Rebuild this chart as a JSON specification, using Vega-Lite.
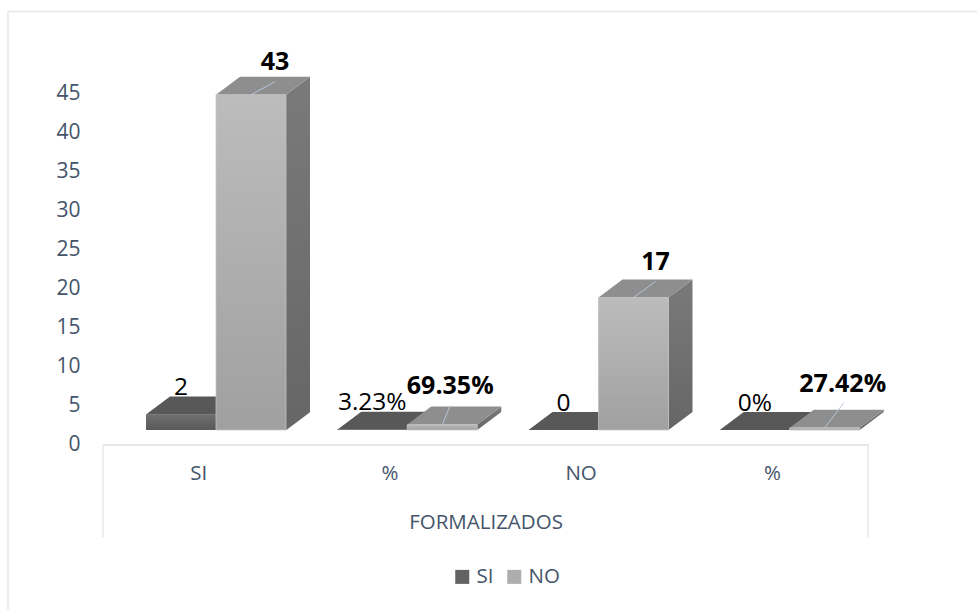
{
"$schema":"https://vega.github.io/schema/vega-lite/v6.json",
"autosize":{"type":"none"},
"padding":{"left":8,"top":11.5,"right":0,"bottom":0},
"width":975,"height":610,
"background":"white",
"config":{"view":{"stroke":"#e3e8ed","strokeWidth":1.5},"font":"Open Sans"},
"resolve":{"scale":{"shape":"independent"}},
"data":{"values":[
{"cat":"SI","series":"SI","value":2,"label":"2"},
{"cat":"SI","series":"NO","value":43,"label":"43"},
{"cat":"%","series":"SI","value":0.0323,"label":"3.23%"},
{"cat":"%","series":"NO","value":0.6935,"label":"69.35%"},
{"cat":"NO","series":"SI","value":0,"label":"0"},
{"cat":"NO","series":"NO","value":17,"label":"17"},
{"cat":"% ","series":"SI","value":0,"label":"0%"},
{"cat":"% ","series":"NO","value":0.2742,"label":"27.42%"}
]},
"encoding":{
"x":{"field":"cat","type":"nominal","sort":null,"scale":{"domain":["SI","%","NO","% "],"range":[95,860],"paddingInner":0,"paddingOuter":0},
 "axis":{"labelExpr":"trim(datum.label)","labelAngle":0,"ticks":false,"domainColor":"#e3e8ed","domainWidth":2,"offset":-177,"labelPadding":19,"labelFontSize":20.5,"labelColor":"#44546a","titleFontSize":20.5,"titleFontWeight":"normal","titleColor":"#44546a","titlePadding":28,"title":"FORMALIZADOS","grid":false}},
"xOffset":{"field":"series","type":"nominal","sort":null,"scale":{"domain":["SI","NO"],"range":[43,183],"paddingInner":0,"paddingOuter":0}},
"y":{"field":"value","type":"quantitative","scale":{"domain":[0,45],"range":[433,82.2],"nice":false},
 "axis":{"values":[0,5,10,15,20,25,30,35,40,45],"domain":false,"ticks":false,"grid":false,"offset":-72,"labelPadding":0,"labelFontSize":21,"labelColor":"#44546a","title":null}}
},
"layer":[
{"mark":{"type":"bar","yOffset":-14.5,"y2Offset":-14.5},
 "encoding":{"color":{"field":"series","type":"nominal","sort":null,"scale":{"domain":["SI","NO"],"range":["#636363","#aeaeae"]},"legend":{"orient":"none","legendX":444,"legendY":555,"direction":"horizontal","title":null,"symbolType":"square","symbolSize":196,"labelFontSize":20.5,"labelColor":"#44546a","columnPadding":10,"labelOffset":4}}}},
{"transform":[{"filter":"datum.series=='SI'"}],"mark":{"type":"point","filled":true,"size":4,"opacity":1,"color":"#585858","shape":"M-35,0 L35,0 L59,-18 L-11,-18 Z","yOffset":-14.5}},
{"transform":[{"filter":"datum.series=='SI'"}],"mark":{"type":"bar","yOffset":-14.5,"y2Offset":-14.5,"color":{"gradient":"linear","x1":0,"y1":0,"x2":0,"y2":1,"stops":[{"offset":0,"color":"#707070"},{"offset":1,"color":"#585858"}]}}},
{"transform":[{"filter":"datum.series=='NO'"}],"mark":{"type":"point","filled":true,"size":4,"opacity":1,"yOffset":-14.5,"color":{"gradient":"linear","x1":0,"y1":0,"x2":0,"y2":1,"stops":[{"offset":0,"color":"#7a7a7a"},{"offset":1,"color":"#666666"}]}},
 "encoding":{"shape":{"field":"cat","type":"nominal","legend":null,"scale":{"domain":["SI","%","NO","% "],"range":["M35,0 L59,-18 L59,317.4 L35,335.4 Z","M35,0 L59,-18 L59,-12.6 L35,5.4 Z","M35,0 L59,-18 L59,114.6 L35,132.6 Z","M35,0 L59,-18 L59,-15.9 L35,2.1 Z"]}}}},
{"transform":[{"filter":"datum.series=='NO'"}],"mark":{"type":"point","filled":true,"size":4,"opacity":1,"color":"#8e8e8e","shape":"M-35,0 L35,0 L59,-18 L-11,-18 Z","yOffset":-14.5}},
{"transform":[{"filter":"datum.series=='NO'"}],"mark":{"type":"bar","yOffset":-14.5,"y2Offset":-14.5,"stroke":"#c4c4c4","strokeWidth":0.75,"color":{"gradient":"linear","x1":0,"y1":0,"x2":0,"y2":1,"stops":[{"offset":0,"color":"#bcbcbc"},{"offset":1,"color":"#a0a0a0"}]}}},
{"transform":[{"filter":"datum.series=='NO'"}],"mark":{"type":"point","filled":false,"size":4,"opacity":1,"color":"#b6c6d8","strokeWidth":1,"yOffset":-14.5},
 "encoding":{"shape":{"field":"label","type":"nominal","legend":null,"scale":{"domain":["43","69.35%","17","27.42%"],"range":["M0,0 L24,-13","M0,0 L8,-19","M0,0 L22,-16","M0,0 L19,-25"]}}}},
{"transform":[{"filter":"datum.series=='SI'"}],"mark":{"type":"text","font":"Open Sans","fontSize":24.5,"color":"#000000","baseline":"alphabetic","dy":-34},"encoding":{"text":{"field":"label"}}},
{"transform":[{"filter":"datum.label=='43'"}],"mark":{"type":"text","font":"Open Sans","fontSize":25,"fontWeight":"bold","color":"#000000","baseline":"alphabetic","dx":24,"dy":-39},"encoding":{"text":{"field":"label"}}},
{"transform":[{"filter":"datum.label=='17'"}],"mark":{"type":"text","font":"Open Sans","fontSize":25,"fontWeight":"bold","color":"#000000","baseline":"alphabetic","dx":22,"dy":-42},"encoding":{"text":{"field":"label"}}},
{"transform":[{"filter":"datum.label=='69.35%'"}],"mark":{"type":"text","font":"Open Sans","fontSize":25,"fontWeight":"bold","color":"#000000","baseline":"alphabetic","dx":8,"dy":-45},"encoding":{"text":{"field":"label"}}},
{"transform":[{"filter":"datum.label=='27.42%'"}],"mark":{"type":"text","font":"Open Sans","fontSize":25,"fontWeight":"bold","color":"#000000","baseline":"alphabetic","dx":18,"dy":-50},"encoding":{"text":{"field":"label"}}},
{"transform":[{"filter":"datum.cat=='SI' && datum.series=='SI'"}],"mark":{"type":"rule","color":"#e3e8ed","strokeWidth":1.5,"y2Offset":92.5},
 "encoding":{"x":{"field":"cat","type":"nominal","bandPosition":0},"xOffset":null,"y":{"datum":0},"y2":{"datum":0}}},
{"transform":[{"filter":"datum.cat=='% ' && datum.series=='SI'"}],"mark":{"type":"rule","color":"#e3e8ed","strokeWidth":1.5,"y2Offset":92.5},
 "encoding":{"x":{"field":"cat","type":"nominal","bandPosition":1},"xOffset":null,"y":{"datum":0},"y2":{"datum":0}}}
]
}
